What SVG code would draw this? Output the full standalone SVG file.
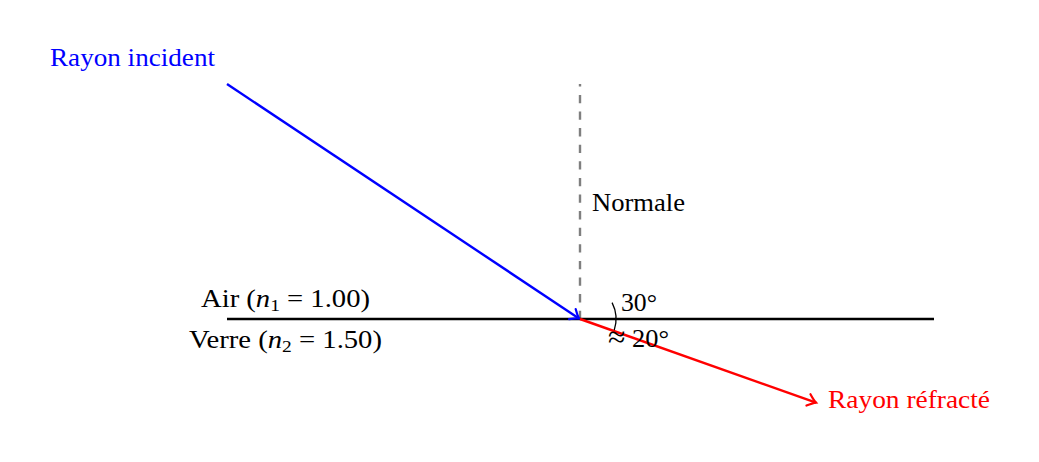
<svg xmlns="http://www.w3.org/2000/svg" width="1039" height="462" viewBox="0 0 1039 462">
<style>
text{font-family:"Liberation Serif","Times New Roman",serif;font-size:25px;}
.m{font-style:italic;}
.sub{font-size:17px;}
.ln{fill:none;stroke-width:2.4;}
</style>
<defs>
<marker id="ab" markerUnits="userSpaceOnUse" markerWidth="20" markerHeight="20" refX="0" refY="0" viewBox="-12 -10 14 20" orient="auto" overflow="visible">
<path d="M-8,-6 Q-3,-1.5 0,0 Q-3,1.5 -8,6" fill="none" stroke="#0000ff" stroke-width="2.2" stroke-linecap="round"/>
</marker>
<marker id="ar" markerUnits="userSpaceOnUse" markerWidth="20" markerHeight="20" refX="0" refY="0" viewBox="-12 -10 14 20" orient="auto" overflow="visible">
<path d="M-8,-6 Q-3,-1.5 0,0 Q-3,1.5 -8,6" fill="none" stroke="#ff0000" stroke-width="2.2" stroke-linecap="round"/>
</marker>
</defs>
<g id="connectors">
<line id="normal" x1="580" y1="319" x2="580" y2="84" stroke="#7f7f7f" stroke-width="2.2" stroke-dasharray="8.3 8.3" class="ln"/>
<line id="interface" x1="227" y1="319" x2="934" y2="319" stroke="#000" class="ln"/>
<line id="incident" x1="227" y1="84" x2="579" y2="318.5" stroke="#0000ff" class="ln" marker-end="url(#ab)"/>
<line id="refracted" x1="580" y1="319" x2="816" y2="402.6" stroke="#ff0000" class="ln" marker-end="url(#ar)"/>
<path id="angle-arc" d="M612.08,302.66 A36,36 0 0 1 614.24,330.12" fill="none" stroke="#000" stroke-width="1.3"/>
</g>
<g id="label-incident"><text x="50" y="66" fill="#0000ff" textLength="165" lengthAdjust="spacingAndGlyphs">Rayon incident</text></g>
<g id="label-normale"><text x="592" y="211" fill="#000" textLength="93" lengthAdjust="spacingAndGlyphs">Normale</text></g>
<g id="label-air"><text x="201" y="307" fill="#000" textLength="169" lengthAdjust="spacingAndGlyphs">Air (<tspan class="m">n</tspan><tspan class="sub" dy="4">1</tspan><tspan dy="-4"> = 1.00)</tspan></text></g>
<g id="label-verre"><text x="189" y="348" fill="#000" textLength="193" lengthAdjust="spacingAndGlyphs">Verre (<tspan class="m">n</tspan><tspan class="sub" dy="4">2</tspan><tspan dy="-4"> = 1.50)</tspan></text></g>
<g id="label-30"><text x="621" y="311" fill="#000" textLength="36" lengthAdjust="spacingAndGlyphs">30°</text></g>
<g id="label-20"><text x="608" y="347" fill="#000" textLength="61" lengthAdjust="spacingAndGlyphs"><tspan font-size="30">≈</tspan> 20°</text></g>
<g id="label-refracte"><text x="828" y="408" fill="#ff0000" textLength="162" lengthAdjust="spacingAndGlyphs">Rayon réfracté</text></g>
</svg>
